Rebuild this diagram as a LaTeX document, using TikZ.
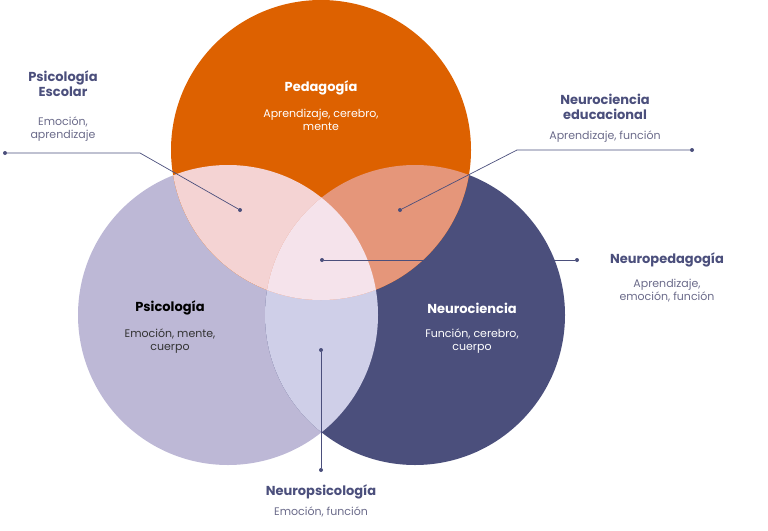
\documentclass[tikz,border=0pt]{standalone}
\usepackage{fontspec}
\setmainfont{Poppins}
\definecolor{cor}{HTML}{DD6100}
\definecolor{clav}{HTML}{BDB8D6}
\definecolor{cnav}{HTML}{4B4F7C}
\definecolor{cOL}{HTML}{F4D3D3}
\definecolor{cOR}{HTML}{E5967A}
\definecolor{cLR}{HTML}{CFCFE8}
\definecolor{cC}{HTML}{F5E3EB}
\definecolor{ctit}{HTML}{4B4F7C}
\definecolor{csub}{HTML}{6B6B8A}
\begin{document}
\begin{tikzpicture}[x=1pt,y=-1pt,
 tit/.style={font=\bfseries\fontsize{13}{15}\selectfont,text=ctit,align=center,inner sep=0},
 sub/.style={font=\fontsize{11}{13}\selectfont,text=csub,align=center,inner sep=0},
 wt/.style={font=\bfseries\fontsize{13}{15}\selectfont,text=white,align=center,inner sep=0},
 ws/.style={font=\fontsize{11}{13}\selectfont,text=white,align=center,inner sep=0},
 ln/.style={draw=cnav,line width=0.7pt},
 dt/.style={circle,fill=cnav,inner sep=0,minimum size=4pt}]
\useasboundingbox (0,0) rectangle (768,530);
\def\O{(321,150) circle (150)}
\def\L{(228,315) circle (150)}
\def\R{(415,315) circle (150)}
\fill[clav] \L; \fill[cnav] \R; \fill[cor] \O;
\begin{scope}\clip \L; \fill[cLR] \R; \fill[cOL] \O; \end{scope}
\begin{scope}\clip \R; \fill[cOR] \O; \end{scope}
\begin{scope}\clip \L; \clip \R; \fill[cC] \O; \end{scope}
\node[wt] at (321,88) {Pedagogía};
\node[ws] at (321,120) {Aprendizaje, cerebro,\\mente};
\node[tit,text=black] at (170,308) {Psicología};
\node[sub,text=black!80] at (170,341) {Emoción, mente,\\cuerpo};
\node[wt] at (472,308) {Neurociencia};
\node[ws] at (472,341) {Función, cerebro,\\cuerpo};
\node[tit] at (63,84) {Psicología\\Escolar};
\node[sub] at (63,129) {Emoción,\\aprendizaje};
\node[tit] at (605,107) {Neurociencia\\educacional};
\node[sub] at (605,137) {Aprendizaje, función};
\node[tit] at (667,260) {Neuropedagogía};
\node[sub] at (667,291) {Aprendizaje,\\emoción, función};
\node[tit] at (321,492) {Neuropsicología};
\node[sub] at (321,512) {Emoción, función};
\node[dt] (a1) at (5,153) {}; \coordinate (a2) at (140,153); \node[dt] (a3) at (240,210) {};
\draw[ln] (a1) -- (a2) -- (a3);
\node[dt] (b1) at (692,150) {}; \coordinate (b2) at (517,150); \node[dt] (b3) at (400,210) {};
\draw[ln] (b1) -- (b2) -- (b3);
\node[dt] (c1) at (322,260) {}; \node[dt] (c2) at (577,260) {};
\draw[ln] (c1) -- (c2);
\node[dt] (d1) at (321,350) {}; \node[dt] (d2) at (321,470) {};
\draw[ln] (d1) -- (d2);
\end{tikzpicture}
\end{document}
